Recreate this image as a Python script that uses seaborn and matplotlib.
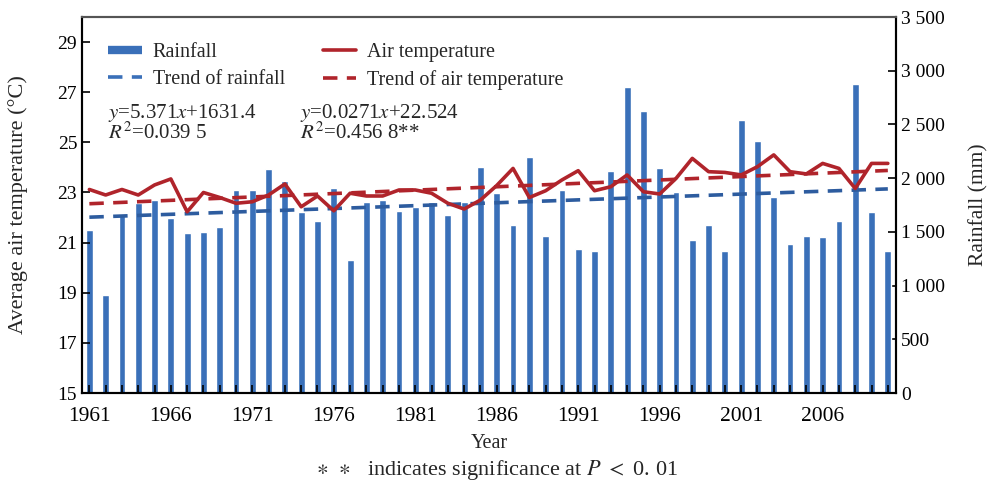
import numpy as np
import pandas as pd
import matplotlib
matplotlib.use("Agg")
import matplotlib.pyplot as plt
from matplotlib.lines import Line2D
from matplotlib.ticker import MultipleLocator, FuncFormatter
import seaborn as sns

years = list(range(1961, 2011))
rainfall = [1519, 913, 1665, 1770, 1798, 1630, 1491, 1500, 1547, 1891,
            1891, 2087, 1975, 1686, 1603, 1910, 1239, 1780, 1798, 1696,
            1733, 1780, 1658, 1780, 2106, 1863, 1565, 2199, 1463, 1891,
            1342, 1323, 2068, 2851, 2627, 2096, 1873, 1425, 1565, 1323,
            2544, 2348, 1826, 1388, 1463, 1454, 1603, 2879, 1686, 1323]
temperature = [23.12, 22.90, 23.12, 22.90, 23.30, 23.54, 22.23, 23.00, 22.80, 22.57,
               22.63, 22.90, 23.34, 22.43, 22.86, 22.27, 22.97, 22.86, 22.86, 23.10,
               23.10, 22.97, 22.57, 22.34, 22.70, 23.28, 23.96, 22.80, 23.07, 23.50,
               23.87, 23.07, 23.23, 23.70, 23.03, 22.94, 23.56, 24.36, 23.83, 23.80,
               23.70, 24.03, 24.50, 23.83, 23.74, 24.16, 23.96, 23.16, 24.16, 24.16]
rain_slope, rain_icpt = 5.371, 1631.4
temp_slope, temp_icpt = 0.0271, 22.524

idx = np.arange(1, len(years) + 1)
df = pd.DataFrame({"Year": years, "Rainfall": rainfall, "Temp": temperature,
                   "RainTrend": rain_slope * idx + rain_icpt,
                   "TempTrend": temp_slope * idx + temp_icpt})

sns.set_theme(style="ticks")
plt.rcParams["font.family"] = ["Liberation Serif", "DejaVu Serif"]
plt.rcParams["mathtext.fontset"] = "stix"

BLUE = "#3a70b9"
BLUE_D = "#2d5c9f"
RED = "#b0242b"

fig = plt.figure(figsize=(9.93, 4.82), dpi=100)
ax = fig.add_axes([0.0826, 0.1846, 0.8197, 0.7801])
ax2 = ax.twinx()

sns.barplot(data=df, x="Year", y="Rainfall", native_scale=True, color=BLUE,
            saturation=1, width=0.42, ax=ax2)
sns.lineplot(data=df, x="Year", y="RainTrend", color=BLUE_D, lw=2.6, ax=ax2)
ax2.lines[-1].set_dashes((4, 2.6))

sns.lineplot(data=df, x="Year", y="Temp", color=RED, lw=2.6, ax=ax)
sns.lineplot(data=df, x="Year", y="TempTrend", color=RED, lw=2.6, ax=ax)
ax.lines[-1].set_dashes((4, 2.6))

ax.set_zorder(ax2.get_zorder() + 1)
ax.patch.set_visible(False)

ax.set_xlim(1960.55, 2010.5)
ax.set_ylim(15, 30)
ax2.set_ylim(0, 3500)
ax.set_yticks([15, 17, 19, 21, 23, 25, 27, 29])
ax2.set_yticks(range(0, 3501, 500))
ax2.yaxis.set_major_formatter(FuncFormatter(lambda v, p: f"{int(v):,}".replace(",", " ")))
ax.set_xticks(list(range(1961, 2010, 5)))
ax.xaxis.set_minor_locator(MultipleLocator(1))

for a in (ax, ax2):
    a.tick_params(axis="both", which="both", direction="in", labelsize=14,
                  length=6, width=1.2, colors="black")
    for s in a.spines.values():
        s.set_linewidth(1.5)
        s.set_color("black")
    a.spines["top"].set_color("#555555")
ax.tick_params(axis="x", which="both", pad=10, labelsize=15.5)

ax.set_xlabel("Year", fontsize=14.5, labelpad=6)
ax.set_ylabel("Average air temperature (\u00b0C)", fontsize=16)
ax.yaxis.set_label_coords(-0.066, 0.5)
ax2.set_ylabel("Rainfall (mm)", fontsize=15.5)
ax2.yaxis.set_label_coords(1.09, 0.5)

handles = [Line2D([], [], color=BLUE, lw=6, solid_capstyle="butt"),
           Line2D([], [], color=BLUE, lw=2.6, dashes=(4, 2.6)),
           Line2D([], [], color=RED, lw=2.6),
           Line2D([], [], color=RED, lw=2.6, dashes=(4, 2.6))]
labels = ["Rainfall", "Trend of rainfall", "Air temperature", "Trend of air temperature"]
ax.legend(handles, labels, ncol=2, loc="upper left", bbox_to_anchor=(0.01, 0.98),
          frameon=False, fontsize=14.5, handlelength=1.65, columnspacing=1.9,
          labelspacing=0.42, handletextpad=0.55)

ax.text(0.032, 0.775, "$y$=5.371$x$+1631.4\n$R^2$=0.039 5", transform=ax.transAxes,
        fontsize=15, va="top", ha="left", linespacing=0.95)
ax.text(0.268, 0.775, "$y$=0.0271$x$+22.524\n$R^2$=0.456 8**", transform=ax.transAxes,
        fontsize=15, va="top", ha="left", linespacing=0.95)

fig.text(0.50, 0.0, "$\\ast$  $\\ast$   indicates significance at $P$ $<$ 0. 01", ha="center",
         va="bottom", fontsize=16)

fig.savefig("out.png", dpi=100)
